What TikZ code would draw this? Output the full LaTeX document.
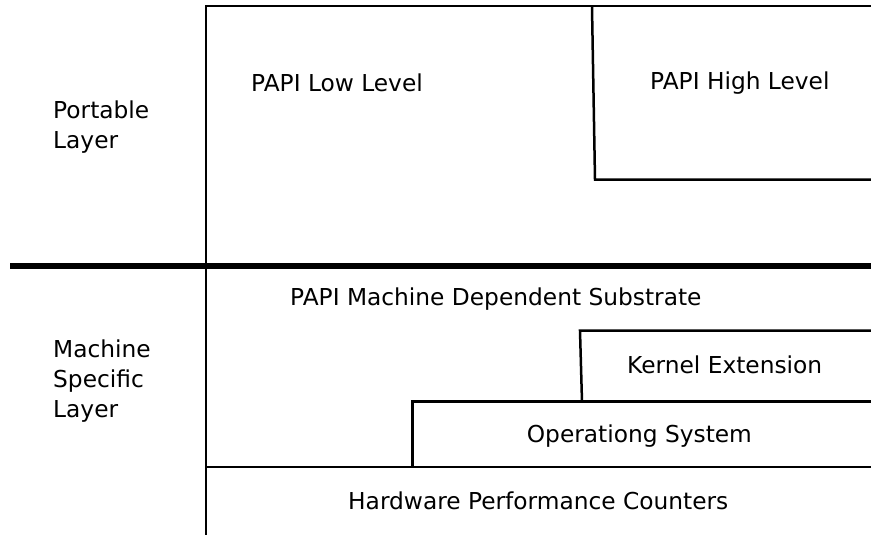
\documentclass[tikz,border=0pt]{standalone}
\usepackage{fontspec}
\setmainfont{DejaVu Sans}

\begin{document}
\begin{tikzpicture}[x=1pt,y=-1pt,font=\fontsize{23.3}{29.6}\selectfont]
\tikzset{layer/.style={line width=2.5pt},
         divide/.style={line width=6pt},
         lbl/.style={anchor=base west,inner sep=0pt}}
\useasboundingbox (0,0) rectangle (871,535);
% frame and layer divide
\draw[layer] (871,6) -- (206,6) -- (206,535);
\draw[divide] (10,266) -- (871,266);
% boxes
\draw[layer] (592,7) -- (595,179.5) -- (871,179.5);
\draw[layer] (582,401.7) -- (580,330.7) -- (871,330.7);
\draw[layer] (412.3,467) -- (412.3,401.7) -- (871,401.7);
\draw[layer] (206,467) -- (871,467);
% labels (base of a multi-line node is its last line)
\node at (53,148) (port) [lbl,align=left] {Portable\\Layer};
\node at (53,417) (mach) [lbl,align=left] {Machine\\Specific\\Layer};
\node at (251,92) (low) [lbl] {PAPI Low Level};
\node at (650,89.3) (high) [lbl] {PAPI High Level};
\node at (290,305) (sub) [lbl] {PAPI Machine Dependent Substrate};
\node at (627,373.3) (kern) [lbl] {Kernel Extension};
\node at (526.7,442.7) (os) [lbl] {Operationg System};
\node at (348,509.3) (hw) [lbl] {Hardware Performance Counters};
\end{tikzpicture}
\end{document}
